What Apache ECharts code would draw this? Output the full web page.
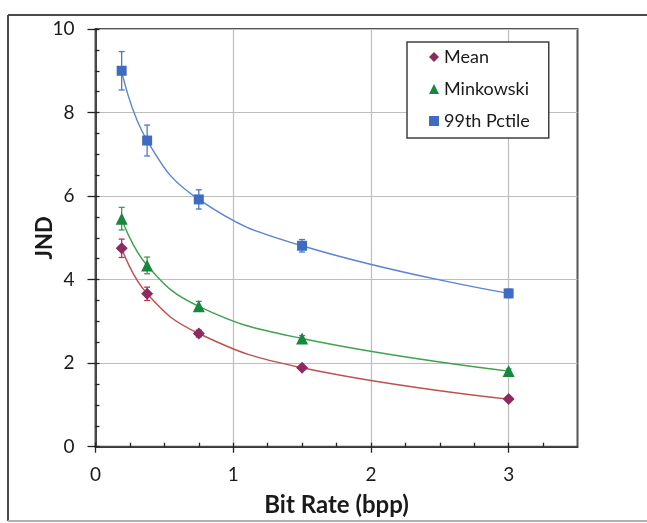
<!DOCTYPE html>
<html>
<head>
<meta charset="utf-8">
<script src="https://cdn.jsdelivr.net/npm/echarts@6/dist/echarts.min.js"></script>
<style>html,body{margin:0;padding:0;background:#fff}#c{width:647px;height:523px}</style>
</head>
<body>
<div id="c"></div>
<script>
const bitRate = [0.19, 0.375, 0.75, 1.5, 3.0];
const meanJND = [4.75, 3.66, 2.71, 1.89, 1.14];
const meanErr = [0.22, 0.16, 0.08, 0.05, 0.04];
const minkJND = [5.46, 4.34, 3.36, 2.59, 1.81];
const minkErr = [0.27, 0.20, 0.12, 0.07, 0.05];
const p99JND = [9.0, 7.33, 5.92, 4.81, 3.67];
const p99Err = [0.46, 0.37, 0.23, 0.15, 0.10];
const xTicks = [0, 1, 2, 3];
const seriesNames = ['Mean', 'Minkowski', '99th Pctile'];

const FONT = 'Lato';
const chart = echarts.init(document.getElementById('c'), null, {renderer: 'canvas'});

function pts(ys) { return bitRate.map((x, i) => [x, ys[i]]); }
function errPts(ys, es) { return bitRate.map((x, i) => [x, ys[i] - es[i], ys[i] + es[i]]); }

function errSeries(ys, es, color) {
  return {
    type: 'custom', z: 3, silent: true,
    data: errPts(ys, es),
    renderItem: function (params, api) {
      const x = api.value(0);
      const lo = api.coord([x, api.value(1)]);
      const hi = api.coord([x, api.value(2)]);
      const w = 3;
      const st = {stroke: color, lineWidth: 1.3};
      return {type: 'group', children: [
        {type: 'line', shape: {x1: lo[0], y1: lo[1], x2: hi[0], y2: hi[1]}, style: st},
        {type: 'line', shape: {x1: lo[0] - w, y1: lo[1], x2: lo[0] + w, y2: lo[1]}, style: st},
        {type: 'line', shape: {x1: hi[0] - w, y1: hi[1], x2: hi[0] + w, y2: hi[1]}, style: st}
      ]};
    }
  };
}
function curveSeries(ys, color) {
  return {type: 'line', z: 2, data: pts(ys), smooth: 0.45, showSymbol: false, silent: true,
    lineStyle: {color: color, width: 1.4}};
}
function markSeries(name, ys, color, symbol, size) {
  return {type: 'scatter', name: name, z: 4, data: pts(ys), symbol: symbol, symbolSize: size,
    itemStyle: {color: color, opacity: 1}};
}

const axisLabelStyle = {fontFamily: FONT, fontSize: 19, color: '#1a1a1a'};

chart.setOption({
  animation: false,
  backgroundColor: '#fff',
  graphic: [
    {type: 'line', shape: {x1: 8, y1: 15, x2: 647, y2: 15}, style: {stroke: '#4a4a4a', lineWidth: 2}},
    {type: 'line', shape: {x1: 8, y1: 15, x2: 8, y2: 521}, style: {stroke: '#4a4a4a', lineWidth: 2}},
    {type: 'line', shape: {x1: 8, y1: 521, x2: 647, y2: 521}, style: {stroke: '#b0b0b0', lineWidth: 2}}
  ],
  grid: {left: 95.5, right: 69.5, top: 29, bottom: 76.3, show: true, borderColor: '#555', borderWidth: 2, backgroundColor: 'transparent'},
  legend: {
    orient: 'vertical', left: 407, top: 42,
    borderColor: '#404040', borderWidth: 1.5, backgroundColor: '#fff',
    padding: [5, 19, 7, 22], itemGap: 12, itemWidth: 10, itemHeight: 10,
    textStyle: {fontFamily: FONT, fontSize: 18, color: '#1a1a1a', lineHeight: 20},
    data: [
      {name: seriesNames[0], icon: 'diamond'},
      {name: seriesNames[1], icon: 'triangle'},
      {name: seriesNames[2], icon: 'rect'}
    ]
  },
  xAxis: [{
    type: 'value', min: 0, max: 3.5, interval: 1,
    name: 'Bit Rate (bpp)', nameLocation: 'middle', nameGap: 47, nameMoveOverlap: false,
    nameTextStyle: {fontFamily: FONT, fontSize: 24, fontWeight: 'bold', color: '#1a1a1a'},
    axisLine: {show: true, lineStyle: {color: '#222', width: 1.5}},
    axisTick: {show: true, inside: true, length: 4, lineStyle: {color: '#222', width: 1.3}, customValues: xTicks},
    minorTick: {show: true, splitNumber: 4, length: 4, lineStyle: {color: '#222', width: 1.3}},
    axisLabel: {show: true, margin: 19, ...axisLabelStyle, customValues: xTicks},
    splitLine: {show: true, lineStyle: {color: '#bdbdbd', width: 1.2}}
  }, {
    type: 'value', min: 0, max: 3.5, interval: 1, position: 'bottom',
    axisLine: {show: false}, axisLabel: {show: false}, splitLine: {show: false},
    axisTick: {show: true, inside: false, length: 6, lineStyle: {color: '#222', width: 1.3}, customValues: xTicks}
  }],
  yAxis: [{
    type: 'value', min: 0, max: 10, interval: 2,
    name: 'JND', nameLocation: 'middle', nameGap: 40, nameMoveOverlap: false,
    nameTextStyle: {fontFamily: FONT, fontSize: 22, fontWeight: 'bold', color: '#1a1a1a'},
    axisLine: {show: true, lineStyle: {color: '#222', width: 1.5}},
    axisTick: {show: true, inside: true, length: 4, lineStyle: {color: '#222', width: 1.3}},
    minorTick: {show: true, splitNumber: 4, length: 4, lineStyle: {color: '#222', width: 1.3}},
    axisLabel: {show: true, margin: 21, ...axisLabelStyle},
    splitLine: {show: true, lineStyle: {color: '#bdbdbd', width: 1.2}}
  }, {
    type: 'value', min: 0, max: 10, interval: 2, position: 'left',
    axisLine: {show: false}, axisLabel: {show: false}, splitLine: {show: false},
    axisTick: {show: true, inside: false, length: 8, lineStyle: {color: '#222', width: 1.3}}
  }],
  series: [
    curveSeries(meanJND, '#c0504d'),
    curveSeries(minkJND, '#3fa34d'),
    curveSeries(p99JND, '#5b83d3'),
    errSeries(meanJND, meanErr, '#b2394e'),
    errSeries(minkJND, minkErr, '#3a9e50'),
    errSeries(p99JND, p99Err, '#4d76c9'),
    markSeries(seriesNames[0], meanJND, '#8e2a5f', 'diamond', 12),
    markSeries(seriesNames[1], minkJND, '#17873d', 'triangle', 12),
    markSeries(seriesNames[2], p99JND, '#3f6cc2', 'rect', 10)
  ]
});
</script>
</body>
</html>
